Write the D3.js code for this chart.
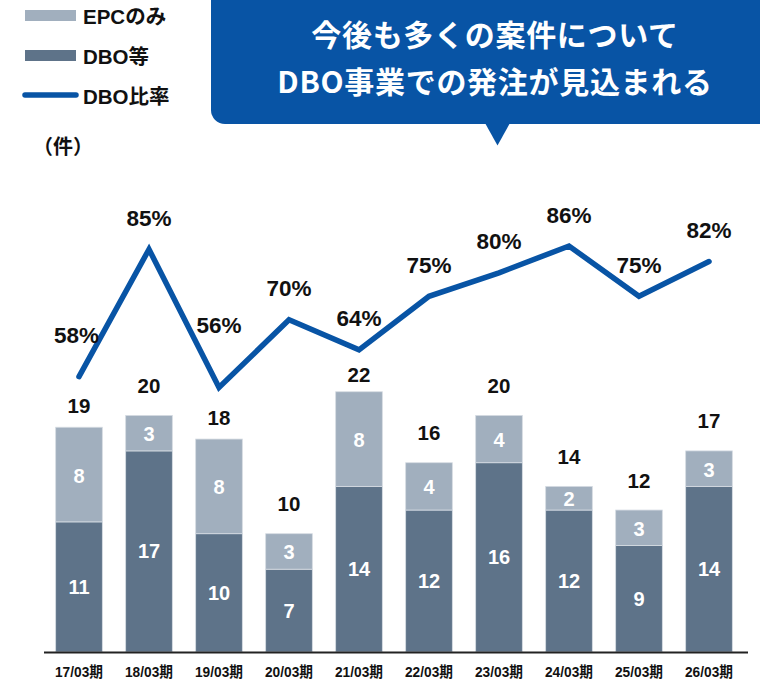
<!DOCTYPE html>
<html>
<head>
<meta charset="utf-8">
<script src="https://cdn.jsdelivr.net/npm/d3@7"></script>
<style>
  body { margin: 0; background: #fff; }
  svg text { font-family: "Liberation Sans", Arial, "Noto Sans CJK JP", sans-serif; font-weight: bold; }
</style>
</head>
<body>
<div id="chart"></div>
<script>
(function() {
	var width = 760
	var height = 684

	// data
	var categories = ["17/03期", "18/03期", "19/03期", "20/03期", "21/03期", "22/03期", "23/03期", "24/03期", "25/03期", "26/03期"]
	var dboCounts = [11, 17, 10, 7, 14, 12, 16, 12, 9, 14]
	var epcCounts = [8, 3, 8, 3, 8, 4, 4, 2, 3, 3]
	var totals = [19, 20, 18, 10, 22, 16, 20, 14, 12, 17]
	var dboRatio = [57.9, 85.0, 55.6, 70.0, 63.6, 75.0, 80.0, 85.7, 75.0, 82.4]
	var ratioLabels = ["58%", "85%", "56%", "70%", "64%", "75%", "80%", "86%", "75%", "82%"]

	var blue = "#0854a5"
	var dark = "#5e7389"
	var light = "#a1afbe"

	var svg = d3.select("#chart")
		.append("svg")
		.attr("width", width)
		.attr("height", height)

	var x = d3.scaleBand()
		.domain(categories)
		.range([44, 744])
		.paddingInner(1 / 3)
		.paddingOuter(1 / 6)

	var y = d3.scaleLinear()
		.domain([0, 25])
		.range([652, 356.25])

	var yRatio = d3.scaleLinear()
		.domain([0, 100])
		.range([648.8, 178.8])

	// callout box
	svg.append("rect")
		.attr("x", 211)
		.attr("y", -20)
		.attr("width", 580)
		.attr("height", 144)
		.attr("rx", 14)
		.attr("fill", blue)

	svg.append("path")
		.attr("d", "M485,123 L510,123 L497.5,145.5 Z")
		.attr("fill", blue)

	var callout = ["今後も多くの案件について", "DBO事業での発注が見込まれる"]
	svg.selectAll(".callout")
		.data(callout)
		.enter().append("text")
		.attr("class", "callout")
		.attr("x", 495)
		.attr("y", function(d, i) { return 33 + i * 47 })
		.attr("dominant-baseline", "central")
		.attr("text-anchor", "middle")
		.attr("fill", "#fff")
		.style("font-family", "'Noto Sans CJK JP', sans-serif")
		.style("font-size", "30px")
		.style("letter-spacing", "0.7px")
		.text(function(d) { return d })

	// legend
	var legend = svg.append("g")
	legend.append("rect").attr("x", 25).attr("y", 10).attr("width", 51).attr("height", 11).attr("fill", light)
	legend.append("rect").attr("x", 25).attr("y", 50).attr("width", 51).attr("height", 11).attr("fill", dark)
	legend.append("line")
		.attr("x1", 25).attr("x2", 76).attr("y1", 95).attr("y2", 95)
		.attr("stroke", blue).attr("stroke-width", 5.5).attr("stroke-linecap", "round")

	legend.selectAll("text")
		.data(["EPCのみ", "DBO等", "DBO比率"])
		.enter().append("text")
		.attr("x", 83)
		.attr("y", function(d, i) { return 16 + i * 40 })
		.attr("dominant-baseline", "central")
		.style("font-size", "20.5px")
		.attr("fill", "#111")
		.text(function(d) { return d })

	svg.append("text")
		.attr("x", 33)
		.attr("y", 147)
		.attr("dominant-baseline", "central")
		.style("font-size", "20px")
		.attr("fill", "#111")
		.text("（件）")

	// stacked bars
	var rows = categories.map(function(c, i) {
		return { cat: c, dbo: dboCounts[i], epc: epcCounts[i], total: totals[i], ratio: dboRatio[i], label: ratioLabels[i] }
	})

	var bars = svg.selectAll(".bar")
		.data(rows)
		.enter().append("g")
		.attr("class", "bar")

	bars.append("rect")
		.attr("x", function(d) { return x(d.cat) })
		.attr("y", function(d) { return y(d.dbo) })
		.attr("width", x.bandwidth())
		.attr("height", function(d) { return y(0) - y(d.dbo) })
		.attr("fill", dark)
		.attr("stroke", "#d6dce3")
		.attr("stroke-width", 0.8)

	bars.append("rect")
		.attr("x", function(d) { return x(d.cat) })
		.attr("y", function(d) { return y(d.dbo + d.epc) })
		.attr("width", x.bandwidth())
		.attr("height", function(d) { return y(d.dbo) - y(d.dbo + d.epc) })
		.attr("fill", light)
		.attr("stroke", "#d6dce3")
		.attr("stroke-width", 0.8)

	bars.append("text")
		.attr("x", function(d) { return x(d.cat) + x.bandwidth() / 2 })
		.attr("y", function(d) { return (y(0) + y(d.dbo)) / 2 })
		.attr("text-anchor", "middle")
		.attr("dominant-baseline", "central")
		.attr("fill", "#fff")
		.style("font-size", "20px")
		.text(function(d) { return d.dbo })

	bars.append("text")
		.attr("x", function(d) { return x(d.cat) + x.bandwidth() / 2 })
		.attr("y", function(d) { return (y(d.dbo) + y(d.dbo + d.epc)) / 2 + 1 })
		.attr("text-anchor", "middle")
		.attr("dominant-baseline", "central")
		.attr("fill", "#fff")
		.style("font-size", "20px")
		.text(function(d) { return d.epc })

	// totals above bars, a few nudged away from the line
	var totalGap = { "17/03期": 22, "19/03期": 22, "21/03期": 17 }
	bars.append("text")
		.attr("x", function(d) { return x(d.cat) + x.bandwidth() / 2 })
		.attr("y", function(d) { return y(d.total) - (totalGap[d.cat] || 30) })
		.attr("text-anchor", "middle")
		.attr("dominant-baseline", "central")
		.attr("fill", "#111")
		.style("font-size", "20.5px")
		.text(function(d) { return d.total })

	// axis
	svg.append("line")
		.attr("x1", 44).attr("x2", 748)
		.attr("y1", y(0) + 0.5).attr("y2", y(0) + 0.5)
		.attr("stroke", "#222").attr("stroke-width", 2)

	var axis = svg.append("g")
		.attr("transform", "translate(0," + y(0) + ")")
		.call(d3.axisBottom(x).tickSize(0).tickPadding(14))
	axis.select(".domain").remove()
	axis.selectAll("text")
		.attr("fill", "#111")
		.style("font-size", "15px")
		.style("font-family", "'Liberation Sans', 'Noto Sans CJK JP', sans-serif")
		.style("font-weight", "bold")
		.attr("textLength", 48)
		.attr("lengthAdjust", "spacingAndGlyphs")

	// ratio line
	var line = d3.line()
		.x(function(d) { return x(d.cat) + x.bandwidth() / 2 })
		.y(function(d) { return yRatio(d.ratio) })

	svg.append("path")
		.datum(rows)
		.attr("d", line)
		.attr("fill", "none")
		.attr("stroke", blue)
		.attr("stroke-width", 5.5)
		.attr("stroke-linecap", "round")

	var ratioGap = { "17/03期": 41, "19/03期": 62 }
	svg.selectAll(".ratio-label")
		.data(rows)
		.enter().append("text")
		.attr("class", "ratio-label")
		.attr("x", function(d) { return x(d.cat) + x.bandwidth() / 2 - (d.cat == "17/03期" ? 2.5 : 0) })
		.attr("y", function(d) { return yRatio(d.ratio) - (ratioGap[d.cat] || 31) })
		.attr("text-anchor", "middle")
		.attr("dominant-baseline", "central")
		.attr("fill", "#111")
		.style("font-size", "22.5px")
		.text(function(d) { return d.label })

})();
</script>
</body>
</html>
